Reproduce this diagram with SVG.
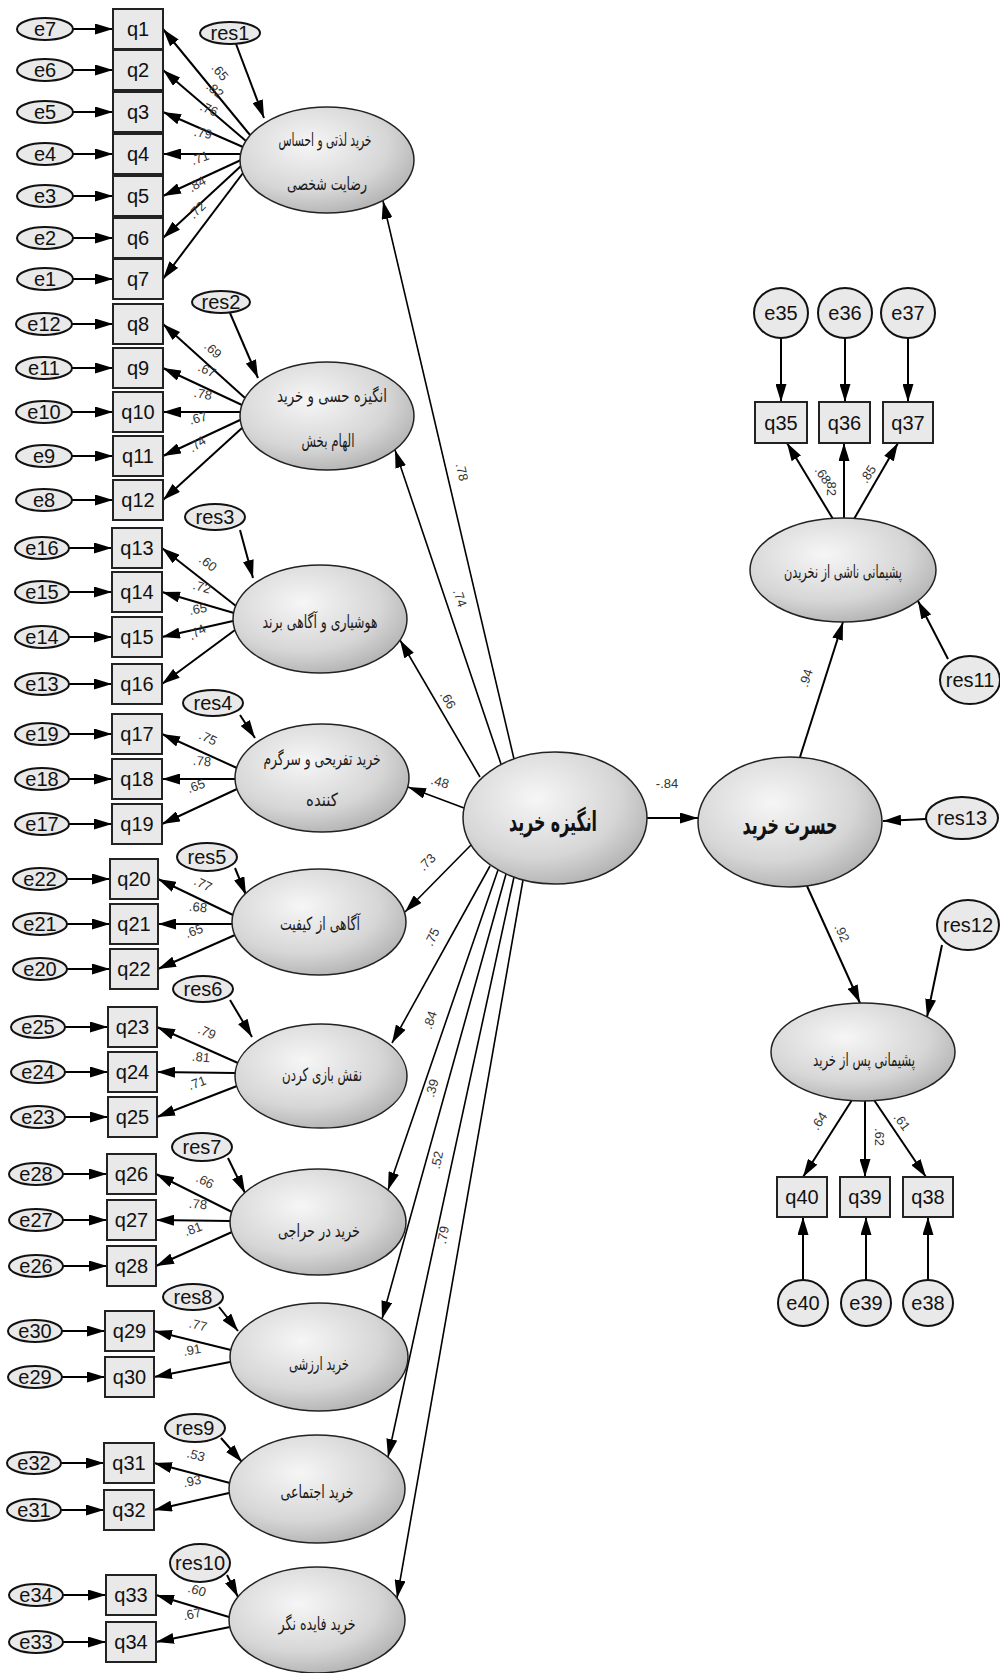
<svg xmlns="http://www.w3.org/2000/svg" width="1000" height="1673" viewBox="0 0 1000 1673">
<defs>
<marker id="a" viewBox="0 0 18 11" refX="18" refY="5.5" markerWidth="18" markerHeight="11" markerUnits="userSpaceOnUse" orient="auto"><path d="M0,0 L18,5.5 L0,11 z" fill="#000"/></marker>
<radialGradient id="g" cx="0.4" cy="0.35" r="0.75"><stop offset="0" stop-color="#f6f6f6"/><stop offset="0.6" stop-color="#d6d6d6"/><stop offset="1" stop-color="#a9a9a9"/></radialGradient>
<style>
.e{fill:#e9e9e9;stroke:#111;stroke-width:2}
.box{fill:#e9e9e9;stroke:#222;stroke-width:2}
.lat{fill:url(#g);stroke:#222;stroke-width:1.5}
.t{font-family:"Liberation Sans",Arial,sans-serif;font-size:20px;fill:#111;text-anchor:middle;dominant-baseline:central}
.fa{font-family:"DejaVu Sans",sans-serif;font-size:18px;fill:#1a1a1a;text-anchor:middle}
.fb{font-family:"DejaVu Sans",sans-serif;font-size:27px;font-weight:bold;fill:#111;text-anchor:middle}
.lbl{font-family:"Liberation Sans",Arial,sans-serif;font-size:13px;fill:#333;text-anchor:middle;dominant-baseline:central}
.ln{stroke:#000;stroke-width:2;fill:none;marker-end:url(#a)}
.sl{stroke:#000;stroke-width:1.6;fill:none;marker-end:url(#a)}
</style>
</defs>
<rect width="1000" height="1673" fill="#fff"/>

<g id="connectors">
<line class="ln" x1="73" y1="29" x2="113" y2="29"/><line class="ln" x1="73" y1="70" x2="113" y2="70"/><line class="ln" x1="73" y1="112" x2="113" y2="112"/><line class="ln" x1="73" y1="154" x2="113" y2="154"/><line class="ln" x1="73" y1="196" x2="113" y2="196"/><line class="ln" x1="73" y1="238" x2="113" y2="238"/><line class="ln" x1="73" y1="279" x2="113" y2="279"/>
<line class="ln" x1="250" y1="135" x2="163" y2="29"/><line class="ln" x1="246" y1="141" x2="163" y2="70"/><line class="ln" x1="243" y1="147" x2="163" y2="112"/><line class="ln" x1="241" y1="154" x2="163" y2="154"/><line class="ln" x1="241" y1="160" x2="163" y2="196"/><line class="ln" x1="241" y1="166" x2="163" y2="238"/><line class="ln" x1="243" y1="173" x2="163" y2="279"/>
<line class="ln" x1="236" y1="44" x2="264" y2="118"/>
<line class="ln" x1="72" y1="324" x2="113" y2="324"/><line class="ln" x1="72" y1="368" x2="113" y2="368"/><line class="ln" x1="72" y1="412" x2="113" y2="412"/><line class="ln" x1="72" y1="456" x2="113" y2="456"/><line class="ln" x1="72" y1="500" x2="113" y2="500"/>
<line class="ln" x1="245" y1="398" x2="163" y2="324"/><line class="ln" x1="242" y1="405" x2="163" y2="368"/><line class="ln" x1="240" y1="412" x2="163" y2="412"/><line class="ln" x1="240" y1="420" x2="163" y2="456"/><line class="ln" x1="242" y1="428" x2="163" y2="500"/>
<line class="ln" x1="230" y1="313" x2="258" y2="378"/>
<line class="ln" x1="69" y1="548" x2="112" y2="548"/><line class="ln" x1="69" y1="592" x2="112" y2="592"/><line class="ln" x1="69" y1="637" x2="112" y2="637"/><line class="ln" x1="69" y1="684" x2="112" y2="684"/>
<line class="ln" x1="236" y1="606" x2="162" y2="548"/><line class="ln" x1="234" y1="613" x2="162" y2="592"/><line class="ln" x1="233" y1="621" x2="162" y2="637"/><line class="ln" x1="235" y1="630" x2="162" y2="684"/>
<line class="ln" x1="240" y1="530" x2="253" y2="578"/>
<line class="ln" x1="69" y1="734" x2="112" y2="734"/><line class="ln" x1="69" y1="779" x2="112" y2="779"/><line class="ln" x1="69" y1="824" x2="112" y2="824"/>
<line class="ln" x1="237" y1="768" x2="162" y2="734"/><line class="ln" x1="235" y1="779" x2="162" y2="779"/><line class="ln" x1="237" y1="789" x2="162" y2="824"/>
<line class="ln" x1="240" y1="715" x2="255" y2="738"/>
<line class="ln" x1="67" y1="879" x2="110" y2="879"/><line class="ln" x1="67" y1="924" x2="110" y2="924"/><line class="ln" x1="67" y1="969" x2="110" y2="969"/>
<line class="ln" x1="233" y1="915" x2="158" y2="879"/><line class="ln" x1="232" y1="924" x2="158" y2="924"/><line class="ln" x1="235" y1="935" x2="158" y2="969"/>
<line class="ln" x1="235" y1="868" x2="246" y2="895"/>
<line class="ln" x1="65" y1="1027" x2="108" y2="1027"/><line class="ln" x1="65" y1="1072" x2="108" y2="1072"/><line class="ln" x1="65" y1="1117" x2="108" y2="1117"/>
<line class="ln" x1="238" y1="1063" x2="157" y2="1027"/><line class="ln" x1="235" y1="1073" x2="157" y2="1072"/><line class="ln" x1="237" y1="1086" x2="157" y2="1117"/>
<line class="ln" x1="230" y1="1000" x2="252" y2="1037"/>
<line class="ln" x1="63" y1="1174" x2="107" y2="1174"/><line class="ln" x1="63" y1="1220" x2="107" y2="1220"/><line class="ln" x1="63" y1="1266" x2="107" y2="1266"/>
<line class="ln" x1="232" y1="1212" x2="156" y2="1174"/><line class="ln" x1="230" y1="1221" x2="156" y2="1220"/><line class="ln" x1="232" y1="1232" x2="156" y2="1266"/>
<line class="ln" x1="228" y1="1158" x2="245" y2="1193"/>
<line class="ln" x1="62" y1="1331" x2="105" y2="1331"/><line class="ln" x1="62" y1="1377" x2="105" y2="1377"/>
<line class="ln" x1="231" y1="1350" x2="154" y2="1331"/><line class="ln" x1="230" y1="1362" x2="154" y2="1377"/>
<line class="ln" x1="219" y1="1307" x2="238" y2="1331"/>
<line class="ln" x1="61" y1="1463" x2="104" y2="1463"/><line class="ln" x1="61" y1="1510" x2="104" y2="1510"/>
<line class="ln" x1="230" y1="1483" x2="154" y2="1463"/><line class="ln" x1="229" y1="1493" x2="154" y2="1510"/>
<line class="ln" x1="221" y1="1438" x2="242" y2="1462"/>
<line class="ln" x1="63" y1="1595" x2="106" y2="1595"/><line class="ln" x1="63" y1="1642" x2="106" y2="1642"/>
<line class="ln" x1="229" y1="1617" x2="156" y2="1595"/><line class="ln" x1="230" y1="1627" x2="156" y2="1642"/>
<line class="ln" x1="227" y1="1575" x2="238" y2="1597"/>
<line class="sl" x1="514" y1="759" x2="383" y2="201"/>
<line class="sl" x1="501" y1="764" x2="395" y2="450"/>
<line class="sl" x1="480" y1="777" x2="400" y2="640"/>
<line class="sl" x1="464" y1="808" x2="408" y2="787"/>
<line class="sl" x1="471" y1="845" x2="405" y2="912"/>
<line class="sl" x1="490" y1="866" x2="392" y2="1043"/>
<line class="sl" x1="498" y1="870" x2="388" y2="1190"/>
<line class="sl" x1="506" y1="874" x2="382" y2="1319"/>
<line class="sl" x1="514" y1="877" x2="388" y2="1457"/>
<line class="sl" x1="523" y1="880" x2="397" y2="1598"/>
<line class="ln" x1="647" y1="818" x2="698" y2="818"/>
<line class="ln" x1="926" y1="819" x2="883" y2="821"/>
<line class="ln" x1="800" y1="757" x2="843" y2="622"/>
<line class="ln" x1="807" y1="886" x2="860" y2="1003"/>
<line class="ln" x1="781" y1="338" x2="781" y2="402"/><line class="ln" x1="845" y1="338" x2="845" y2="402"/><line class="ln" x1="908" y1="338" x2="908" y2="402"/>
<line class="ln" x1="833" y1="519" x2="787" y2="443"/><line class="ln" x1="844" y1="518" x2="844" y2="443"/><line class="ln" x1="854" y1="519" x2="898" y2="443"/>
<line class="ln" x1="948" y1="659" x2="918" y2="601"/>
<line class="ln" x1="942" y1="945" x2="927" y2="1017"/>
<line class="ln" x1="852" y1="1100" x2="803" y2="1177"/><line class="ln" x1="865" y1="1101" x2="865" y2="1177"/><line class="ln" x1="874" y1="1100" x2="926" y2="1177"/>
<line class="ln" x1="803" y1="1280" x2="803" y2="1217"/><line class="ln" x1="866" y1="1280" x2="866" y2="1217"/><line class="ln" x1="928" y1="1280" x2="928" y2="1217"/>
</g>

<g id="labels">
<text class="lbl" transform="translate(220,72) rotate(50)">.65</text>
<text class="lbl" transform="translate(215,90) rotate(40)">.82</text>
<text class="lbl" transform="translate(209,109) rotate(24)">.76</text>
<text class="lbl" transform="translate(203,133) rotate(10)">.79</text>
<text class="lbl" transform="translate(200,158) rotate(-20)">.71</text>
<text class="lbl" transform="translate(197,184) rotate(-30)">.84</text>
<text class="lbl" transform="translate(197,210) rotate(-45)">.72</text>
<text class="lbl" transform="translate(213,350) rotate(42)">.69</text>
<text class="lbl" transform="translate(207,370) rotate(25)">.67</text>
<text class="lbl" transform="translate(203,394) rotate(10)">.78</text>
<text class="lbl" transform="translate(198,418) rotate(-15)">.67</text>
<text class="lbl" transform="translate(197,444) rotate(-35)">.74</text>
<text class="lbl" transform="translate(208,563) rotate(38)">.60</text>
<text class="lbl" transform="translate(202,587) rotate(16)">.72</text>
<text class="lbl" transform="translate(198,609) rotate(-10)">.65</text>
<text class="lbl" transform="translate(197,632) rotate(-30)">.74</text>
<text class="lbl" transform="translate(208,738) rotate(25)">.75</text>
<text class="lbl" transform="translate(202,761) rotate(5)">.78</text>
<text class="lbl" transform="translate(196,786) rotate(-20)">.65</text>
<text class="lbl" transform="translate(203,884) rotate(26)">.77</text>
<text class="lbl" transform="translate(198,907) rotate(5)">.68</text>
<text class="lbl" transform="translate(194,931) rotate(-20)">.65</text>
<text class="lbl" transform="translate(207,1032) rotate(24)">.79</text>
<text class="lbl" transform="translate(201,1057) rotate(5)">.81</text>
<text class="lbl" transform="translate(197,1083) rotate(-20)">.71</text>
<text class="lbl" transform="translate(205,1181) rotate(27)">.66</text>
<text class="lbl" transform="translate(198,1204) rotate(5)">.78</text>
<text class="lbl" transform="translate(193,1229) rotate(-20)">.81</text>
<text class="lbl" transform="translate(198,1325) rotate(14)">.77</text>
<text class="lbl" transform="translate(192,1350) rotate(-10)">.91</text>
<text class="lbl" transform="translate(196,1455) rotate(15)">.53</text>
<text class="lbl" transform="translate(192,1481) rotate(-12)">.93</text>
<text class="lbl" transform="translate(197,1590) rotate(17)">.60</text>
<text class="lbl" transform="translate(192,1614) rotate(-11)">.67</text>
<text class="lbl" transform="translate(462,472) rotate(77)">.78</text>
<text class="lbl" transform="translate(460,598) rotate(71)">.74</text>
<text class="lbl" transform="translate(448,700) rotate(60)">.66</text>
<text class="lbl" transform="translate(440,782) rotate(16)">.48</text>
<text class="lbl" transform="translate(427,862) rotate(-45)">.73</text>
<text class="lbl" transform="translate(432,937) rotate(-64)">.75</text>
<text class="lbl" transform="translate(430,1020) rotate(-71)">.84</text>
<text class="lbl" transform="translate(432,1088) rotate(-74)">.39</text>
<text class="lbl" transform="translate(437,1160) rotate(-78)">.52</text>
<text class="lbl" transform="translate(443,1235) rotate(-80)">.79</text>
<text class="lbl" transform="translate(667,783)">-.84</text>
<text class="lbl" transform="translate(806,678) rotate(-72)">.94</text>
<text class="lbl" transform="translate(842,933) rotate(65)">.92</text>
<text class="lbl" transform="translate(823,475) rotate(57)">.68</text>
<text class="lbl" transform="translate(831,487) rotate(90)">.82</text>
<text class="lbl" transform="translate(868,474) rotate(-57)">.85</text>
<text class="lbl" transform="translate(819,1121) rotate(-56)">.64</text>
<text class="lbl" transform="translate(879,1137) rotate(90)">.62</text>
<text class="lbl" transform="translate(902,1122) rotate(54)">.61</text>
</g>

<g id="e7"><ellipse class="e" cx="45" cy="29" rx="28" ry="11"/><text class="t" x="45" y="29">e7</text></g>
<g id="e6"><ellipse class="e" cx="45" cy="70" rx="28" ry="11"/><text class="t" x="45" y="70">e6</text></g>
<g id="e5"><ellipse class="e" cx="45" cy="112" rx="28" ry="11"/><text class="t" x="45" y="112">e5</text></g>
<g id="e4"><ellipse class="e" cx="45" cy="154" rx="28" ry="11"/><text class="t" x="45" y="154">e4</text></g>
<g id="e3"><ellipse class="e" cx="45" cy="196" rx="28" ry="11"/><text class="t" x="45" y="196">e3</text></g>
<g id="e2"><ellipse class="e" cx="45" cy="238" rx="28" ry="11"/><text class="t" x="45" y="238">e2</text></g>
<g id="e1"><ellipse class="e" cx="45" cy="279" rx="28" ry="11"/><text class="t" x="45" y="279">e1</text></g>
<g id="q1"><rect class="box" x="113" y="9" width="50" height="40"/><text class="t" x="138" y="29">q1</text></g>
<g id="q2"><rect class="box" x="113" y="50" width="50" height="40"/><text class="t" x="138" y="70">q2</text></g>
<g id="q3"><rect class="box" x="113" y="92" width="50" height="40"/><text class="t" x="138" y="112">q3</text></g>
<g id="q4"><rect class="box" x="113" y="134" width="50" height="40"/><text class="t" x="138" y="154">q4</text></g>
<g id="q5"><rect class="box" x="113" y="176" width="50" height="40"/><text class="t" x="138" y="196">q5</text></g>
<g id="q6"><rect class="box" x="113" y="218" width="50" height="40"/><text class="t" x="138" y="238">q6</text></g>
<g id="q7"><rect class="box" x="113" y="259" width="50" height="40"/><text class="t" x="138" y="279">q7</text></g>
<g id="res1"><ellipse class="e" cx="230" cy="33" rx="30" ry="11"/><text class="t" x="230" y="33">res1</text></g>
<g id="L1"><ellipse class="lat" cx="327" cy="160" rx="87" ry="53"/><text class="fa" x="325" y="146" textLength="93" lengthAdjust="spacingAndGlyphs">خرید لذتی و احساس</text><text class="fa" x="327" y="190" textLength="80" lengthAdjust="spacingAndGlyphs">رضایت شخصی</text></g>

<g id="e12"><ellipse class="e" cx="44" cy="324" rx="28" ry="11"/><text class="t" x="44" y="324">e12</text></g>
<g id="e11"><ellipse class="e" cx="44" cy="368" rx="28" ry="11"/><text class="t" x="44" y="368">e11</text></g>
<g id="e10"><ellipse class="e" cx="44" cy="412" rx="28" ry="11"/><text class="t" x="44" y="412">e10</text></g>
<g id="e9"><ellipse class="e" cx="44" cy="456" rx="28" ry="11"/><text class="t" x="44" y="456">e9</text></g>
<g id="e8"><ellipse class="e" cx="44" cy="500" rx="28" ry="11"/><text class="t" x="44" y="500">e8</text></g>
<g id="q8"><rect class="box" x="113" y="304" width="50" height="40"/><text class="t" x="138" y="324">q8</text></g>
<g id="q9"><rect class="box" x="113" y="348" width="50" height="40"/><text class="t" x="138" y="368">q9</text></g>
<g id="q10"><rect class="box" x="113" y="392" width="50" height="40"/><text class="t" x="138" y="412">q10</text></g>
<g id="q11"><rect class="box" x="113" y="436" width="50" height="40"/><text class="t" x="138" y="456">q11</text></g>
<g id="q12"><rect class="box" x="113" y="480" width="50" height="40"/><text class="t" x="138" y="500">q12</text></g>
<g id="res2"><ellipse class="e" cx="221" cy="302" rx="29" ry="11"/><text class="t" x="221" y="302">res2</text></g>
<g id="L2"><ellipse class="lat" cx="327" cy="416" rx="87" ry="54"/><text class="fa" x="332" y="402" textLength="110" lengthAdjust="spacingAndGlyphs">انگیزه حسی و خرید</text><text class="fa" x="328" y="447" textLength="53" lengthAdjust="spacingAndGlyphs">الهام بخش</text></g>

<g id="e16"><ellipse class="e" cx="42" cy="548" rx="27" ry="11"/><text class="t" x="42" y="548">e16</text></g>
<g id="e15"><ellipse class="e" cx="42" cy="592" rx="27" ry="11"/><text class="t" x="42" y="592">e15</text></g>
<g id="e14"><ellipse class="e" cx="42" cy="637" rx="27" ry="11"/><text class="t" x="42" y="637">e14</text></g>
<g id="e13"><ellipse class="e" cx="42" cy="684" rx="27" ry="11"/><text class="t" x="42" y="684">e13</text></g>
<g id="q13"><rect class="box" x="112" y="528" width="50" height="40"/><text class="t" x="137" y="548">q13</text></g>
<g id="q14"><rect class="box" x="112" y="572" width="50" height="40"/><text class="t" x="137" y="592">q14</text></g>
<g id="q15"><rect class="box" x="112" y="617" width="50" height="40"/><text class="t" x="137" y="637">q15</text></g>
<g id="q16"><rect class="box" x="112" y="664" width="50" height="40"/><text class="t" x="137" y="684">q16</text></g>
<g id="res3"><ellipse class="e" cx="215" cy="517" rx="30" ry="13"/><text class="t" x="215" y="517">res3</text></g>
<g id="L3"><ellipse class="lat" cx="320" cy="619" rx="87" ry="54"/><text class="fa" x="320" y="628" textLength="115" lengthAdjust="spacingAndGlyphs">هوشیاری و آگاهی برند</text></g>

<g id="e19"><ellipse class="e" cx="42" cy="734" rx="27" ry="11"/><text class="t" x="42" y="734">e19</text></g>
<g id="e18"><ellipse class="e" cx="42" cy="779" rx="27" ry="11"/><text class="t" x="42" y="779">e18</text></g>
<g id="e17"><ellipse class="e" cx="42" cy="824" rx="27" ry="11"/><text class="t" x="42" y="824">e17</text></g>
<g id="q17"><rect class="box" x="112" y="714" width="50" height="40"/><text class="t" x="137" y="734">q17</text></g>
<g id="q18"><rect class="box" x="112" y="759" width="50" height="40"/><text class="t" x="137" y="779">q18</text></g>
<g id="q19"><rect class="box" x="112" y="804" width="50" height="40"/><text class="t" x="137" y="824">q19</text></g>
<g id="res4"><ellipse class="e" cx="213" cy="703" rx="30" ry="13"/><text class="t" x="213" y="703">res4</text></g>
<g id="L4"><ellipse class="lat" cx="322" cy="778" rx="87" ry="54"/><text class="fa" x="322" y="765" textLength="117" lengthAdjust="spacingAndGlyphs">خرید تفریحی و سرگرم</text><text class="fa" x="322" y="806" textLength="32" lengthAdjust="spacingAndGlyphs">کننده</text></g>

<g id="e22"><ellipse class="e" cx="40" cy="879" rx="27" ry="11"/><text class="t" x="40" y="879">e22</text></g>
<g id="e21"><ellipse class="e" cx="40" cy="924" rx="27" ry="11"/><text class="t" x="40" y="924">e21</text></g>
<g id="e20"><ellipse class="e" cx="40" cy="969" rx="27" ry="11"/><text class="t" x="40" y="969">e20</text></g>
<g id="q20"><rect class="box" x="110" y="859" width="48" height="40"/><text class="t" x="134" y="879">q20</text></g>
<g id="q21"><rect class="box" x="110" y="904" width="48" height="40"/><text class="t" x="134" y="924">q21</text></g>
<g id="q22"><rect class="box" x="110" y="949" width="48" height="40"/><text class="t" x="134" y="969">q22</text></g>
<g id="res5"><ellipse class="e" cx="207" cy="857" rx="30" ry="14"/><text class="t" x="207" y="857">res5</text></g>
<g id="L5"><ellipse class="lat" cx="319" cy="922" rx="87" ry="53"/><text class="fa" x="320" y="930" textLength="80" lengthAdjust="spacingAndGlyphs">آگاهی از کیفیت</text></g>

<g id="e25"><ellipse class="e" cx="38" cy="1027" rx="27" ry="11"/><text class="t" x="38" y="1027">e25</text></g>
<g id="e24"><ellipse class="e" cx="38" cy="1072" rx="27" ry="11"/><text class="t" x="38" y="1072">e24</text></g>
<g id="e23"><ellipse class="e" cx="38" cy="1117" rx="27" ry="11"/><text class="t" x="38" y="1117">e23</text></g>
<g id="q23"><rect class="box" x="108" y="1007" width="49" height="40"/><text class="t" x="132.5" y="1027">q23</text></g>
<g id="q24"><rect class="box" x="108" y="1052" width="49" height="40"/><text class="t" x="132.5" y="1072">q24</text></g>
<g id="q25"><rect class="box" x="108" y="1097" width="49" height="40"/><text class="t" x="132.5" y="1117">q25</text></g>
<g id="res6"><ellipse class="e" cx="203" cy="989" rx="30" ry="13"/><text class="t" x="203" y="989">res6</text></g>
<g id="L6"><ellipse class="lat" cx="321" cy="1076" rx="86" ry="52"/><text class="fa" x="322" y="1081" textLength="80" lengthAdjust="spacingAndGlyphs">نقش بازی کردن</text></g>

<g id="e28"><ellipse class="e" cx="36" cy="1174" rx="27" ry="11"/><text class="t" x="36" y="1174">e28</text></g>
<g id="e27"><ellipse class="e" cx="36" cy="1220" rx="27" ry="11"/><text class="t" x="36" y="1220">e27</text></g>
<g id="e26"><ellipse class="e" cx="36" cy="1266" rx="27" ry="11"/><text class="t" x="36" y="1266">e26</text></g>
<g id="q26"><rect class="box" x="107" y="1154" width="49" height="40"/><text class="t" x="131.5" y="1174">q26</text></g>
<g id="q27"><rect class="box" x="107" y="1200" width="49" height="40"/><text class="t" x="131.5" y="1220">q27</text></g>
<g id="q28"><rect class="box" x="107" y="1246" width="49" height="40"/><text class="t" x="131.5" y="1266">q28</text></g>
<g id="res7"><ellipse class="e" cx="202" cy="1147" rx="30" ry="14"/><text class="t" x="202" y="1147">res7</text></g>
<g id="L7"><ellipse class="lat" cx="318" cy="1222" rx="88" ry="53"/><text class="fa" x="319" y="1237" textLength="82" lengthAdjust="spacingAndGlyphs">خرید در حراجی</text></g>

<g id="e30"><ellipse class="e" cx="35" cy="1331" rx="27" ry="11"/><text class="t" x="35" y="1331">e30</text></g>
<g id="e29"><ellipse class="e" cx="35" cy="1377" rx="27" ry="11"/><text class="t" x="35" y="1377">e29</text></g>
<g id="q29"><rect class="box" x="105" y="1311" width="49" height="40"/><text class="t" x="129.5" y="1331">q29</text></g>
<g id="q30"><rect class="box" x="105" y="1357" width="49" height="40"/><text class="t" x="129.5" y="1377">q30</text></g>
<g id="res8"><ellipse class="e" cx="193" cy="1297" rx="30" ry="13"/><text class="t" x="193" y="1297">res8</text></g>
<g id="L8"><ellipse class="lat" cx="319" cy="1357" rx="89" ry="54"/><text class="fa" x="319" y="1370" textLength="60" lengthAdjust="spacingAndGlyphs">خرید ارزشی</text></g>

<g id="e32"><ellipse class="e" cx="34" cy="1463" rx="27" ry="11"/><text class="t" x="34" y="1463">e32</text></g>
<g id="e31"><ellipse class="e" cx="34" cy="1510" rx="27" ry="11"/><text class="t" x="34" y="1510">e31</text></g>
<g id="q31"><rect class="box" x="104" y="1443" width="50" height="40"/><text class="t" x="129" y="1463">q31</text></g>
<g id="q32"><rect class="box" x="104" y="1490" width="50" height="40"/><text class="t" x="129" y="1510">q32</text></g>
<g id="res9"><ellipse class="e" cx="195" cy="1428" rx="30" ry="14"/><text class="t" x="195" y="1428">res9</text></g>
<g id="L9"><ellipse class="lat" cx="317" cy="1489" rx="88" ry="54"/><text class="fa" x="317" y="1498" textLength="73" lengthAdjust="spacingAndGlyphs">خرید اجتماعی</text></g>

<g id="e34"><ellipse class="e" cx="36" cy="1595" rx="27" ry="11"/><text class="t" x="36" y="1595">e34</text></g>
<g id="e33"><ellipse class="e" cx="36" cy="1642" rx="27" ry="11"/><text class="t" x="36" y="1642">e33</text></g>
<g id="q33"><rect class="box" x="106" y="1575" width="50" height="40"/><text class="t" x="131" y="1595">q33</text></g>
<g id="q34"><rect class="box" x="106" y="1622" width="50" height="40"/><text class="t" x="131" y="1642">q34</text></g>
<g id="res10"><ellipse class="e" cx="200" cy="1563" rx="30" ry="19"/><text class="t" x="200" y="1563">res10</text></g>
<g id="L10"><ellipse class="lat" cx="317" cy="1620" rx="88" ry="53"/><text class="fa" x="317" y="1630" textLength="77" lengthAdjust="spacingAndGlyphs">خرید فایده نگر</text></g>

<g id="motive"><ellipse class="lat" cx="555" cy="818" rx="92" ry="66"/><text class="fb" x="553" y="831" textLength="88" lengthAdjust="spacingAndGlyphs">انگیزه خرید</text></g>
<g id="regret"><ellipse class="lat" cx="790" cy="822" rx="92" ry="65"/><text class="fb" x="790" y="834" textLength="95" lengthAdjust="spacingAndGlyphs">حسرت خرید</text></g>
<g id="res13"><ellipse class="e" cx="962" cy="818" rx="36" ry="21"/><text class="t" x="962" y="818">res13</text></g>

<g id="e35"><ellipse class="e" cx="781" cy="313" rx="27" ry="25"/><text class="t" x="781" y="313">e35</text></g>
<g id="e36"><ellipse class="e" cx="845" cy="313" rx="27" ry="25"/><text class="t" x="845" y="313">e36</text></g>
<g id="e37"><ellipse class="e" cx="908" cy="313" rx="27" ry="25"/><text class="t" x="908" y="313">e37</text></g>
<g id="q35"><rect class="box" x="755" y="402" width="52" height="41"/><text class="t" x="781" y="422.5">q35</text></g>
<g id="q36"><rect class="box" x="819" y="402" width="51" height="41"/><text class="t" x="844.5" y="422.5">q36</text></g>
<g id="q37"><rect class="box" x="883" y="402" width="50" height="41"/><text class="t" x="908" y="422.5">q37</text></g>
<g id="R1"><ellipse class="lat" cx="843" cy="570" rx="93" ry="52"/><text class="fa" x="843" y="578" textLength="118" lengthAdjust="spacingAndGlyphs">پشیمانی ناشی از نخریدن</text></g>
<g id="res11"><ellipse class="e" cx="970" cy="680" rx="30" ry="24"/><text class="t" x="970" y="680">res11</text></g>

<g id="res12"><ellipse class="e" cx="968" cy="925" rx="31" ry="25"/><text class="t" x="968" y="925">res12</text></g>
<g id="R2"><ellipse class="lat" cx="863" cy="1052" rx="92" ry="49"/><text class="fa" x="864" y="1066" textLength="102" lengthAdjust="spacingAndGlyphs">پشیمانی پس از خرید</text></g>
<g id="q40"><rect class="box" x="777" y="1177" width="50" height="40"/><text class="t" x="802" y="1197">q40</text></g>
<g id="q39"><rect class="box" x="840" y="1177" width="50" height="40"/><text class="t" x="865" y="1197">q39</text></g>
<g id="q38"><rect class="box" x="903" y="1177" width="50" height="40"/><text class="t" x="928" y="1197">q38</text></g>
<g id="e40"><ellipse class="e" cx="803" cy="1303" rx="25" ry="23"/><text class="t" x="803" y="1303">e40</text></g>
<g id="e39"><ellipse class="e" cx="866" cy="1303" rx="25" ry="23"/><text class="t" x="866" y="1303">e39</text></g>
<g id="e38"><ellipse class="e" cx="928" cy="1303" rx="25" ry="23"/><text class="t" x="928" y="1303">e38</text></g>
</svg>
